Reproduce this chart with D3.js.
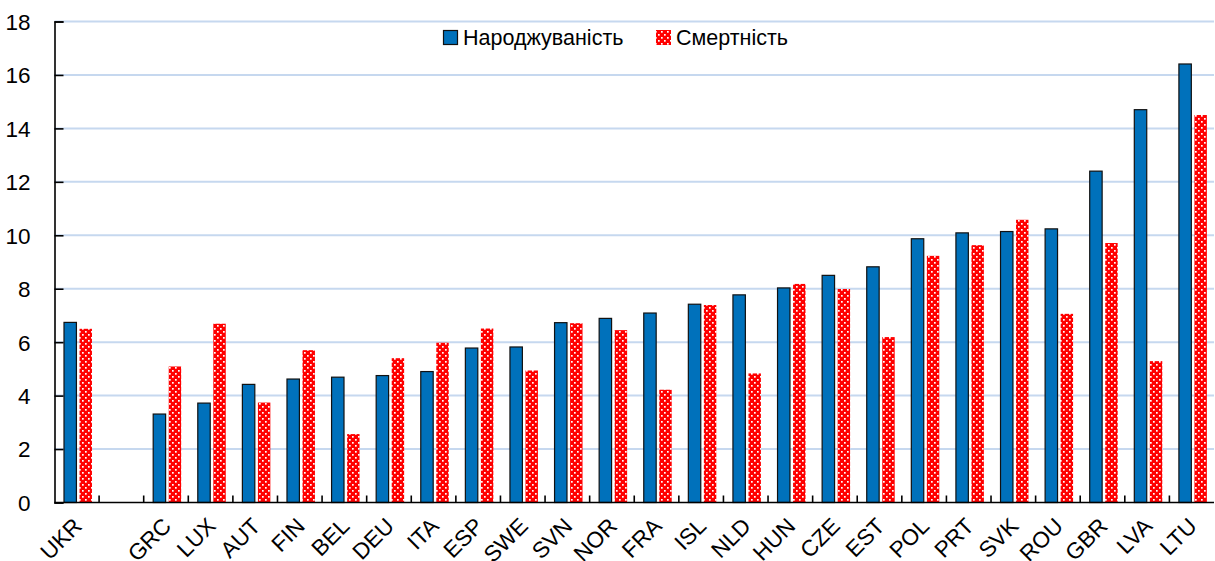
<!DOCTYPE html>
<html>
<head>
<meta charset="utf-8">
<script src="https://cdn.jsdelivr.net/npm/d3@7"></script>
<style>
  html, body { margin: 0; padding: 0; background: #fff; }
  svg text { font-family: "Liberation Sans", Arial, sans-serif; fill: #000; }
</style>
</head>
<body>
<svg id="chart" width="1215" height="561"></svg>
<script>
const categories = ["UKR", "", "GRC", "LUX", "AUT", "FIN", "BEL", "DEU", "ITA", "ESP", "SWE", "SVN", "NOR", "FRA", "ISL", "NLD", "HUN", "CZE", "EST", "POL", "PRT", "SVK", "ROU", "GBR", "LVA", "LTU"];
const births = [6.74, null, 3.31, 3.72, 4.42, 4.62, 4.69, 4.75, 4.90, 5.78, 5.82, 6.73, 6.89, 7.09, 7.42, 7.77, 8.03, 8.50, 8.82, 9.87, 10.09, 10.14, 10.24, 12.40, 14.70, 16.41];
const deaths = [6.50, null, 5.09, 6.69, 3.74, 5.70, 2.56, 5.40, 5.98, 6.51, 4.94, 6.71, 6.45, 4.22, 7.39, 4.83, 8.18, 7.99, 6.19, 9.23, 9.63, 10.58, 7.06, 9.71, 5.29, 14.50];
const seriesNames = ["Народжуваність", "Смертність"];
const yTicks = [0, 2, 4, 6, 8, 10, 12, 14, 16, 18];

const svg = d3.select("#chart");
const mLeft = 54.5, mRight = 1214, mTop = 21.5, mBottom = 502.5;

const x = d3.scaleBand().domain(categories.map((c, i) => i)).range([mLeft, mRight]).padding(0);
const bw = x.bandwidth();
const xs = d3.scaleBand().domain([0, 1]).range([0.213 * bw, 0.84 * bw]).paddingInner(0.2);
const y = d3.scaleLinear().domain([0, 18]).range([mBottom, mTop]);

// pattern for deaths
const defs = svg.append("defs");
const pat = defs.append("pattern").attr("id", "dots").attr("patternUnits", "userSpaceOnUse")
  .attr("width", 6).attr("height", 6);
pat.append("rect").attr("width", 6).attr("height", 6).attr("fill", "#ff0000");
pat.append("rect").attr("x", 1).attr("y", 1).attr("width", 1.7).attr("height", 1.7).attr("fill", "#ffffff");
pat.append("rect").attr("x", 4).attr("y", 4).attr("width", 1.7).attr("height", 1.7).attr("fill", "#ffffff");

// gridlines
svg.append("g").selectAll("line").data(yTicks.filter(t => t > 0)).join("line")
  .attr("x1", mLeft).attr("x2", mRight)
  .attr("y1", d => y(d)).attr("y2", d => y(d))
  .attr("stroke", "#c6d8ef").attr("stroke-width", 2);

// bars
const g = svg.append("g");
categories.forEach((c, i) => {
  if (births[i] != null) {
    g.append("rect")
      .attr("x", x(i) + xs(0)).attr("y", y(births[i]))
      .attr("width", xs.bandwidth()).attr("height", y(0) - y(births[i]))
      .attr("fill", "#0071bb").attr("stroke", "#111").attr("stroke-width", 1.2);
  }
  if (deaths[i] != null) {
    g.append("rect")
      .attr("x", x(i) + xs(1)).attr("y", y(deaths[i]))
      .attr("width", xs.bandwidth()).attr("height", y(0) - y(deaths[i]))
      .attr("fill", "url(#dots)");
  }
});

// y axis
const yAxis = d3.axisLeft(y).tickValues(yTicks).tickSize(-9).tickPadding(24).tickFormat(d3.format("d"));
const ya = svg.append("g").attr("transform", `translate(${mLeft},0)`).call(yAxis);
ya.select(".domain").attr("stroke", "#000").attr("stroke-width", 1.6);
ya.selectAll(".tick line").attr("stroke", "#000").attr("stroke-width", 1.6);
ya.selectAll(".tick text").attr("font-size", 22.5).attr("dy", "0.35em")
  .style("font-family", '"Liberation Sans", Arial, sans-serif');

// x axis baseline and ticks between categories
const xa = svg.append("g");
xa.append("line").attr("x1", mLeft).attr("x2", mRight).attr("y1", mBottom).attr("y2", mBottom)
  .attr("stroke", "#000").attr("stroke-width", 1.6);
xa.selectAll("line.tk").data(categories.slice(1).map((c, i) => i + 1)).join("line").attr("class", "tk")
  .attr("x1", d => x(d)).attr("x2", d => x(d)).attr("y1", mBottom).attr("y2", mBottom - 7)
  .attr("stroke", "#000").attr("stroke-width", 1.6);
xa.selectAll("text").data(categories.map((c, i) => ({c, i})).filter(d => d.c)).join("text")
  .attr("transform", d => `translate(${x(d.i) + bw / 2 + 6.5},${mBottom + 25}) rotate(-45)`)
  .attr("text-anchor", "end")
  .attr("font-size", 22.5).text(d => d.c);

// legend
const leg = svg.append("g");
leg.append("rect").attr("x", 443.5).attr("y", 30.5).attr("width", 14).attr("height", 14)
  .attr("fill", "#0071bb").attr("stroke", "#111").attr("stroke-width", 1.2);
leg.append("text").attr("x", 463).attr("y", 45).attr("font-size", 21.5).text(seriesNames[0]);
leg.append("rect").attr("x", 656).attr("y", 30).attr("width", 15).attr("height", 15).attr("fill", "url(#dots)");
leg.append("text").attr("x", 676).attr("y", 45).attr("font-size", 21.5).text(seriesNames[1]);
</script>
</body>
</html>
